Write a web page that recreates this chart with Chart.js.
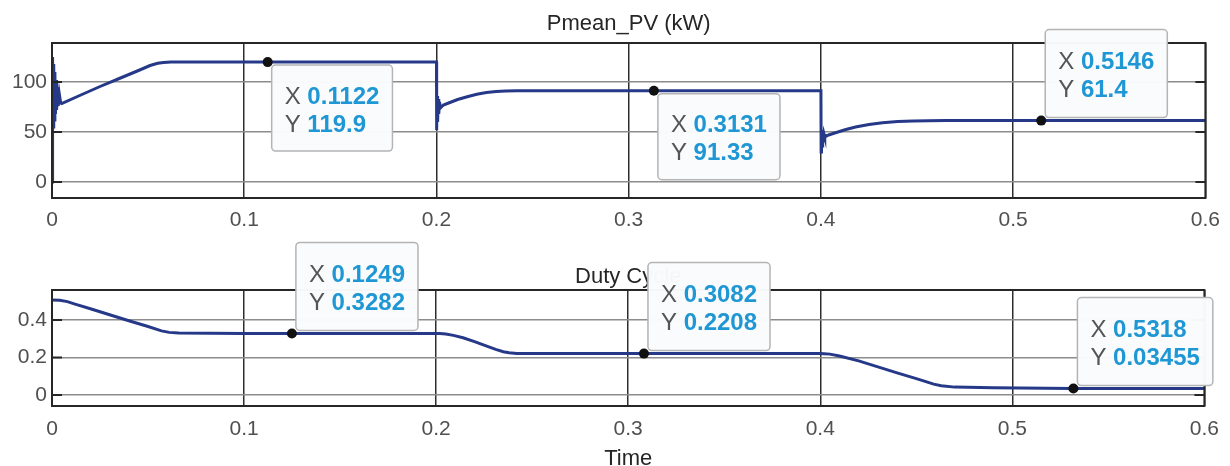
<!DOCTYPE html>
<html>
<head>
<meta charset="utf-8">
<script src="https://cdn.jsdelivr.net/npm/chart.js@4.4.1/dist/chart.umd.min.js"></script>
<style>
  html, body { margin: 0; padding: 0; background: #fff; }
  #wrap { position: relative; width: 1230px; height: 466px; }
  canvas { position: absolute; left: 0; }
</style>
</head>
<body>
<div id="wrap">
  <canvas id="pv" width="1230" height="240" style="top:0"></canvas>
  <canvas id="duty" width="1230" height="226" style="top:240px"></canvas>
</div>
<script>
// tick values / labels
const timeTicks = [0, 0.1, 0.2, 0.3, 0.4, 0.5, 0.6];
const timeLabels = ["0", "0.1", "0.2", "0.3", "0.4", "0.5", "0.6"];
const pvTicks = [0, 50, 100];
const pvLabels = ["0", "50", "100"];
const dutyTicks = [0, 0.2, 0.4];
const dutyLabels = ["0", "0.2", "0.4"];

// Pmean_PV (kW) trace
const pvTime = [0, 0.0003, 0.0006, 0.0009, 0.0012, 0.0015, 0.0018, 0.0021, 0.0024, 0.0028, 0.0032, 0.0038, 0.0045,
  0.005, 0.015, 0.025, 0.035, 0.045, 0.051, 0.055, 0.058, 0.062, 0.2,
  0.2001, 0.2003, 0.2006, 0.2009, 0.2012, 0.2016, 0.202, 0.2036, 0.207, 0.211, 0.216, 0.221, 0.226, 0.231, 0.236, 0.242, 0.4,
  0.4001, 0.4003, 0.4006, 0.4009, 0.4012, 0.4016, 0.402, 0.404, 0.408, 0.413, 0.418, 0.425, 0.432, 0.44, 0.448, 0.456, 0.465, 0.6];
const pvPower = [0, 125, 55, 118, 62, 110, 68, 102, 72, 95, 76, 88, 79,
  78.5, 87, 95.5, 103.5, 111.5, 116.5, 118.8, 119.6, 119.9, 119.9,
  52, 86, 60, 83, 68, 80, 74, 77, 79.5, 82.5, 85.3, 87.7, 89.5, 90.6, 91.1, 91.33, 91.33,
  30, 52, 36, 50, 40, 48, 45, 47, 49.5, 52.5, 55, 57.5, 59.3, 60.5, 61.1, 61.35, 61.4, 61.4];

// Duty Cycle trace
const dutyTime = [0, 0.004, 0.008, 0.012, 0.02, 0.03, 0.04, 0.05, 0.057, 0.061, 0.066, 0.1, 0.2,
  0.202, 0.205, 0.209, 0.214, 0.22, 0.226, 0.231, 0.235, 0.238, 0.242, 0.3, 0.4,
  0.402, 0.405, 0.41, 0.42, 0.43, 0.44, 0.45, 0.455, 0.459, 0.463, 0.47, 0.49, 0.5318, 0.6];
const dutyValue = [0.507, 0.505, 0.498, 0.485, 0.46, 0.428, 0.396, 0.365, 0.342, 0.334, 0.331, 0.3284, 0.328,
  0.3278, 0.325, 0.318, 0.305, 0.285, 0.262, 0.243, 0.231, 0.225, 0.2215, 0.2208, 0.2208,
  0.2205, 0.218, 0.208, 0.182, 0.15, 0.118, 0.087, 0.071, 0.058, 0.049, 0.042, 0.038, 0.03455, 0.034];

// datatips
const pvTipX = [0.1122, 0.3131, 0.5146];
const pvTipY = [119.9, 91.33, 61.4];
const dutyTipX = [0.1249, 0.3082, 0.5318];
const dutyTipY = [0.3282, 0.2208, 0.03455];

const FONT = "'Liberation Sans', Arial, Helvetica, sans-serif";

// frame, inner ticks, title and datatips (MATLAB style)
const scopePlugin = {
  id: "scope",
  afterDraw(chart, args, opts) {
    const ctx = chart.ctx;
    const a = chart.chartArea;
    const xs = chart.scales.x, ys = chart.scales.y;
    ctx.save();

    // tick marks inside the box
    ctx.strokeStyle = "#262626";
    ctx.lineWidth = 2;
    ys.ticks.forEach((t) => {
      const y = ys.getPixelForValue(t.value);
      ctx.beginPath();
      ctx.moveTo(a.left, y); ctx.lineTo(a.left + 10, y);
      ctx.moveTo(a.right, y); ctx.lineTo(a.right - 10, y);
      ctx.stroke();
    });
    ctx.strokeRect(a.left, a.top, a.right - a.left, a.bottom - a.top);

    // title
    ctx.fillStyle = "#262626";
    ctx.font = "22px " + FONT;
    ctx.textAlign = "center";
    ctx.textBaseline = "middle";
    ctx.fillText(opts.title, (a.left + a.right) / 2, opts.titleY);
    if (opts.xTitle) {
      ctx.fillText(opts.xTitle, (a.left + a.right) / 2, opts.xTitleY);
    }

    // datatips
    ctx.textAlign = "left";
    opts.tipX.forEach((tx, i) => {
      const ty = opts.tipY[i];
      const mx = xs.getPixelForValue(tx);
      const my = ys.getPixelForValue(ty);
      const l1 = String(tx), l2 = String(ty);
      ctx.font = "bold 24px " + FONT;
      const vw = Math.max(ctx.measureText(l1).width, ctx.measureText(l2).width);
      ctx.font = "24px " + FONT;
      const kw = ctx.measureText("X ").width;
      const below = opts.below[i];
      const w = 26 + kw + vw, h = below ? 86 : 88;
      const bx = mx + 4;
      const by = below ? my + 3 : my - 3 - h;

      ctx.fillStyle = "rgba(250,251,253,0.98)";
      ctx.strokeStyle = "#b4b4b4";
      ctx.lineWidth = 1.5;
      ctx.beginPath();
      ctx.roundRect(bx, by, w, h, 4);
      ctx.fill();
      ctx.stroke();

      const off = below ? 0 : 1;
      ctx.fillStyle = "#555555";
      ctx.fillText("X", bx + 13, by + 32 + off);
      ctx.fillText("Y", bx + 13, by + 60 + off);
      ctx.fillStyle = "#1f97d4";
      ctx.font = "bold 24px " + FONT;
      ctx.fillText(l1, bx + 13 + kw, by + 32 + off);
      ctx.fillText(l2, bx + 13 + kw, by + 60 + off);

      ctx.fillStyle = "#111111";
      ctx.beginPath();
      ctx.arc(mx, my, 5, 0, Math.PI * 2);
      ctx.fill();
    });
    ctx.restore();
  },
};

function makeScope(canvasId, times, values, cfg) {
  return new Chart(document.getElementById(canvasId), {
    type: "line",
    data: {
      datasets: [{
        data: times.map((t, i) => ({ x: t, y: values[i] })),
        borderColor: "#263888",
        borderWidth: 3,
        pointRadius: 0,
        tension: 0,
      }],
    },
    options: {
      responsive: false,
      animation: false,
      devicePixelRatio: 1,
      layout: { padding: { top: cfg.padTop, right: 24, left: 0, bottom: 0 } },
      scales: {
        x: {
          type: "linear",
          min: 0,
          max: 0.6,
          afterBuildTicks: (s) => { s.ticks = timeTicks.map((v) => ({ value: v })); },
          afterFit: (s) => { s.height = cfg.xHeight; },
          ticks: {
            callback: (v, i) => timeLabels[i],
            color: "#505050",
            font: { family: FONT, size: 21 },
            padding: cfg.xPad,
            maxRotation: 0,
            autoSkip: false,
          },
          grid: { color: "#2e2e2e", lineWidth: 1.5, drawTicks: false },
          border: { display: false },
        },
        y: {
          min: cfg.yMin,
          max: cfg.yMax,
          afterBuildTicks: (s) => { s.ticks = cfg.yTicks.map((v) => ({ value: v })); },
          afterFit: (s) => { s.width = 52; },
          ticks: {
            callback: (v, i) => cfg.yLabels[i],
            color: "#505050",
            font: { family: FONT, size: 21 },
            padding: 5,
          },
          grid: { color: "#8c8c8c", lineWidth: 1.5, drawTicks: false },
          border: { display: false },
        },
      },
      plugins: {
        legend: { display: false },
        tooltip: { enabled: false },
        scope: cfg.scope,
      },
    },
    plugins: [scopePlugin],
  });
}

makeScope("pv", pvTime, pvPower, {
  padTop: 43, xHeight: 42, xPad: 10, yMin: -16, yMax: 139,
  yTicks: pvTicks, yLabels: pvLabels,
  scope: { title: "Pmean_PV (kW)", titleY: 24, tipX: pvTipX, tipY: pvTipY, below: [true, true, false] },
});

makeScope("duty", dutyTime, dutyValue, {
  padTop: 50, xHeight: 60, xPad: 11, yMin: -0.0587, yMax: 0.56,
  yTicks: dutyTicks, yLabels: dutyLabels,
  scope: { title: "Duty Cycle", titleY: 37, xTitle: "Time", xTitleY: 219,
    tipX: dutyTipX, tipY: dutyTipY, below: [false, false, false] },
});
</script>
</body>
</html>
